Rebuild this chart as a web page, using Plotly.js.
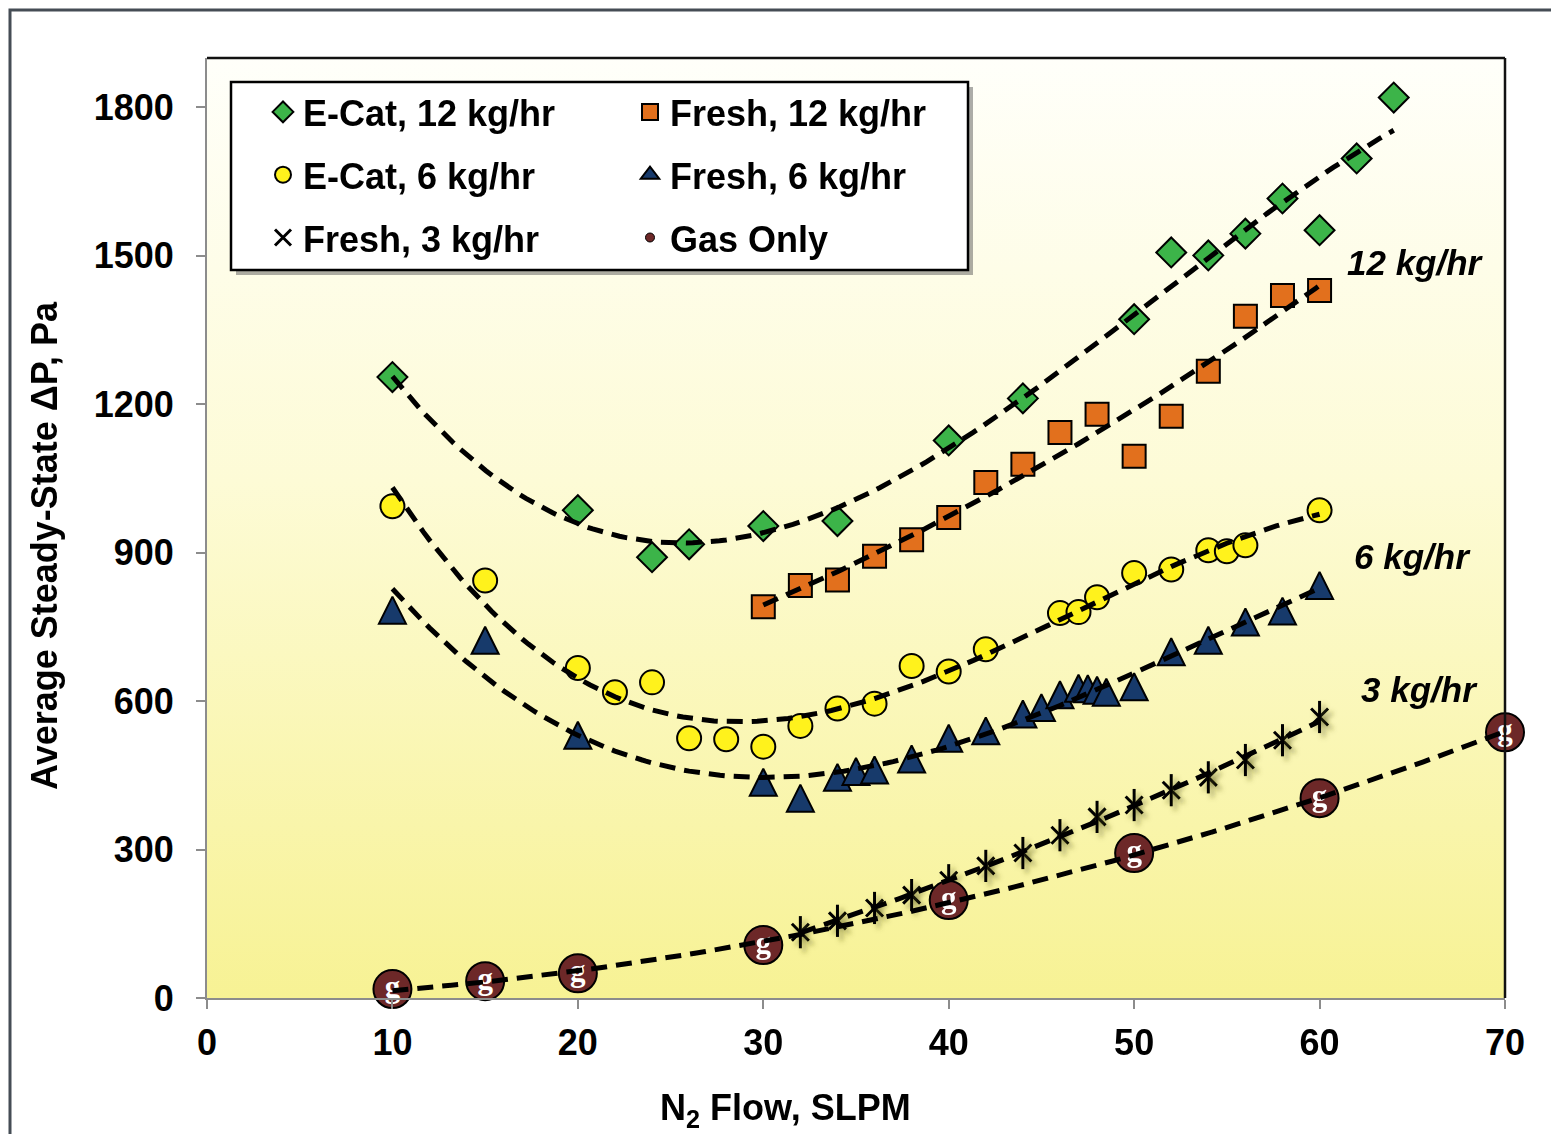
<!DOCTYPE html>
<html>
<head>
<meta charset="utf-8">
<script src="https://cdn.plot.ly/plotly-3.0.1.min.js"></script>
<style>
  html, body { margin: 0; padding: 0; background: #ffffff; }
  #chart { width: 1551px; height: 1134px; }
</style>
</head>
<body>
<div id="chart"></div>
<script>
// N2 flow (SLPM) vs. average steady-state pressure drop (Pa), one pair of arrays per run series
const ecat12X  = [10, 20, 24, 26, 30, 34, 40, 44, 50, 52, 54, 56, 58, 60, 62, 64];
const ecat12Y  = [1255, 986, 891, 917, 954, 964, 1127, 1212, 1372, 1507, 1501, 1545, 1616, 1552, 1697, 1820];

const fresh12X = [30, 32, 34, 36, 38, 40, 42, 44, 46, 48, 50, 52, 54, 56, 58, 60];
const fresh12Y = [791, 834, 845, 893, 926, 971, 1042, 1079, 1143, 1180, 1095, 1176, 1267, 1378, 1420, 1430];

const ecat6X   = [10, 15, 20, 22, 24, 26, 28, 30, 32, 34, 36, 38, 40, 42, 46, 47, 48, 50, 52, 54, 55, 56, 60];
const ecat6Y   = [994, 844, 667, 618, 638, 525, 523, 508, 550, 585, 595, 671, 660, 705, 778, 780, 810, 859, 866, 905, 903, 915, 986];

const fresh6X  = [10, 15, 20, 30, 32, 34, 35, 36, 38, 40, 42, 44, 45, 46, 47, 47.5, 48, 48.5, 50, 52, 54, 56, 58, 60];
const fresh6Y  = [784, 723, 531, 436, 404, 446, 458, 461, 483, 525, 540, 574, 587, 613, 626, 625, 622, 618, 629, 700, 723, 760, 782, 834];

const fresh3X  = [32, 34, 36, 38, 40, 42, 44, 46, 48, 50, 52, 54, 56, 58, 60];
const fresh3Y  = [133, 156, 182, 208, 238, 267, 293, 329, 366, 390, 420, 446, 481, 521, 568];

const gasX     = [10, 15, 20, 30, 40, 50, 60, 70];
const gasY     = [18, 34, 50, 107, 198, 293, 404, 537];

const seriesNames = ['E-Cat, 12 kg/hr', 'Fresh, 12 kg/hr', 'E-Cat, 6 kg/hr', 'Fresh, 6 kg/hr', 'Fresh, 3 kg/hr', 'Gas Only'];
const rateLabels  = ['12 kg/hr', '6 kg/hr', '3 kg/hr'];
const xTitle = 'N<sub>2</sub> Flow, SLPM';
const yTitle = 'Average Steady-State \u0394P, Pa';

// Least-squares polynomial trendline, evaluated across each series' own x span
function polyFit(xs, ys, order) {
  const n = order + 1, s = 10;
  const A = Array.from({ length: n }, () => new Array(n + 1).fill(0));
  xs.forEach((x0, k) => {
    const x = x0 / s;
    for (let i = 0; i < n; i++) {
      for (let j = 0; j < n; j++) A[i][j] += Math.pow(x, i + j);
      A[i][n] += ys[k] * Math.pow(x, i);
    }
  });
  for (let c = 0; c < n; c++) {
    let p = c;
    for (let r = c + 1; r < n; r++) if (Math.abs(A[r][c]) > Math.abs(A[p][c])) p = r;
    [A[c], A[p]] = [A[p], A[c]];
    for (let r = 0; r < n; r++) {
      if (r === c) continue;
      const f = A[r][c] / A[c][c];
      for (let k = c; k <= n; k++) A[r][k] -= f * A[c][k];
    }
  }
  const coef = A.map((row, i) => row[n] / row[i]);
  return x0 => coef.reduce((acc, c, i) => acc + c * Math.pow(x0 / s, i), 0);
}
function trendTrace(xs, ys, order) {
  const f = polyFit(xs, ys, order);
  const lo = Math.min(...xs), hi = Math.max(...xs);
  const tx = [], ty = [];
  for (let i = 0; i <= 150; i++) { const x = lo + (hi - lo) * i / 150; tx.push(x); ty.push(f(x)); }
  return {
    x: tx, y: ty, type: 'scatter', mode: 'lines', showlegend: false, hoverinfo: 'skip',
    line: { color: '#000000', width: 5, dash: '16px,9px' }
  };
}

const FONT = 'Liberation Sans, Arial, Helvetica, sans-serif';
const outline = { color: '#000000', width: 2 };
const TRI = 27;
const NAVY = '#173a6b', MAROON = '#6d2828';

const traces = [
  { x: ecat12X, y: ecat12Y, name: seriesNames[0], legend: 'legend', legendgroup: 'a', type: 'scatter', mode: 'markers',
    marker: { symbol: 'diamond', size: 23, color: '#3cb449', line: outline } },
  { x: fresh12X, y: fresh12Y, name: seriesNames[1], legend: 'legend2', legendgroup: 'b', type: 'scatter', mode: 'markers',
    marker: { symbol: 'square', size: 23, color: '#e2701d', line: outline } },
  { x: ecat6X, y: ecat6Y, name: seriesNames[2], legend: 'legend', legendgroup: 'c', type: 'scatter', mode: 'markers',
    marker: { symbol: 'circle', size: 24, color: '#fff21c', line: outline } },
  // upward-pointing triangles (turned arrow glyph) shifted so their box is centred on the data point
  { x: fresh6X, y: fresh6Y, showlegend: false, legendgroup: 'd', type: 'scatter', mode: 'markers',
    marker: { symbol: 'arrow-down', angle: 180, size: TRI, standoff: TRI / 2, color: NAVY, line: outline } },
  // legend key for the triangles
  { x: [null], y: [null], name: seriesNames[3], legend: 'legend2', legendgroup: 'd', type: 'scatter', mode: 'markers',
    marker: { symbol: 'triangle-up', size: 17, color: NAVY, line: outline } },
  { x: fresh3X, y: fresh3Y, name: seriesNames[4], legend: 'legend', legendgroup: 'e', type: 'scatter', mode: 'markers',
    marker: { symbol: 'x-thin-open', size: 17, color: '#000000', line: { color: '#000000', width: 3 } } },
  { x: fresh3X, y: fresh3Y, showlegend: false, legendgroup: 'e', type: 'scatter', mode: 'markers', hoverinfo: 'skip',
    marker: { symbol: 'line-ns-open', size: 23, color: '#000000', line: { color: '#000000', width: 3 } } },
  { x: gasX, y: gasY, showlegend: false, legendgroup: 'f', type: 'scatter', mode: 'markers',
    cliponaxis: false,
    marker: { symbol: 'circle', size: 38, color: MAROON, line: outline } },
  // small legend key for the gas-only runs
  { x: [null], y: [null], name: seriesNames[5], legend: 'legend2', legendgroup: 'f', type: 'scatter', mode: 'markers',
    marker: { symbol: 'circle', size: 9, color: MAROON, line: { color: '#000000', width: 1 } } },
  { x: gasX, y: gasY, showlegend: false, type: 'scatter', mode: 'text', text: gasX.map(() => 'g'), hoverinfo: 'skip',
    cliponaxis: false, textposition: 'middle center',
    textfont: { family: 'Liberation Serif, Times New Roman, serif', size: 31, color: '#ffffff', weight: 'bold' } },
  trendTrace(ecat12X, ecat12Y, 3),
  trendTrace(fresh12X, fresh12Y, 2),
  trendTrace(ecat6X, ecat6Y, 3),
  trendTrace(fresh6X, fresh6Y, 3),
  trendTrace(fresh3X, fresh3Y, 2),
  trendTrace(gasX, gasY, 2)
];

// Plot area frame in pixels
const W = 1551, H = 1134, ML = 207, MR = 46, MT = 58, MB = 136;
const PW = W - ML - MR, PH = H - MT - MB;
const px = v => (v - ML) / PW;          // page x -> paper x
const py = v => (H - MB - v) / PH;      // page y -> paper y

const bgSvg = '<svg xmlns="http://www.w3.org/2000/svg" width="100" height="100" preserveAspectRatio="none">' +
  '<defs><linearGradient id="bg" x1="0" y1="0" x2="0" y2="1">' +
  '<stop offset="0" stop-color="#fffffa"/><stop offset="0.45" stop-color="#fdfbd6"/><stop offset="1" stop-color="#f7f294"/>' +
  '</linearGradient></defs><rect width="100" height="100" fill="url(#bg)"/></svg>';

const legendCommon = {
  xanchor: 'left', yanchor: 'top', bgcolor: 'rgba(0,0,0,0)', borderwidth: 0,
  font: { family: FONT, size: 36, color: '#000000', weight: 'bold' },
  tracegroupgap: 13, itemclick: false, itemdoubleclick: false
};
const titleFont = { family: FONT, size: 36, color: '#000000', weight: 'bold' };
const rateFont = { family: FONT, size: 35, color: '#000000', weight: 'bold', style: 'italic' };

const layout = {
  width: W, height: H,
  margin: { l: ML, r: MR, t: MT, b: MB, pad: 0 },
  paper_bgcolor: '#ffffff', plot_bgcolor: 'rgba(0,0,0,0)',
  font: { family: FONT, color: '#000000' },
  hovermode: false,
  xaxis: {
    range: [0, 70], tick0: 0, dtick: 10, showgrid: false, zeroline: false,
    ticks: 'outside', ticklen: 9, tickwidth: 2, tickcolor: '#8c8c8c',
    showline: true, linecolor: '#8c8c8c', linewidth: 2,
    tickfont: { family: FONT, size: 36, color: '#000000', weight: 'bold' },
    ticklabelstandoff: 3
  },
  yaxis: {
    range: [0, 1900], tick0: 0, dtick: 300, showgrid: false, zeroline: false,
    ticks: 'outside', ticklen: 9, tickwidth: 2, tickcolor: '#8c8c8c',
    showline: true, linecolor: '#8c8c8c', linewidth: 2,
    tickfont: { family: FONT, size: 36, color: '#000000', weight: 'bold' },
    ticklabelstandoff: 15
  },
  legend: Object.assign({ x: px(263), y: py(82) }, legendCommon),
  legend2: Object.assign({ x: px(630), y: py(82) }, legendCommon),
  images: [{
    source: 'data:image/svg+xml;base64,' + btoa(bgSvg),
    xref: 'paper', yref: 'paper', x: 0, y: 1, sizex: 1, sizey: 1,
    xanchor: 'left', yanchor: 'top', sizing: 'stretch', layer: 'below'
  }],
  shapes: [
    // outer chart border
    { type: 'rect', xref: 'paper', yref: 'paper', x0: px(10), x1: px(1600), y0: py(1180), y1: py(10),
      line: { color: '#454d55', width: 3 }, fillcolor: 'rgba(0,0,0,0)', layer: 'above' },
    // plot area top and right edges
    { type: 'line', xref: 'paper', yref: 'paper', x0: 0, x1: 1, y0: 1, y1: 1, line: { color: '#111111', width: 2.5 } },
    { type: 'line', xref: 'paper', yref: 'paper', x0: 1, x1: 1, y0: 0, y1: 1, line: { color: '#111111', width: 2.5 } },
    // legend box shadow and frame
    { type: 'rect', xref: 'paper', yref: 'paper', x0: px(236), x1: px(973), y0: py(275), y1: py(87),
      line: { width: 0 }, fillcolor: 'rgba(90,90,90,0.5)', layer: 'above' },
    { type: 'rect', xref: 'paper', yref: 'paper', x0: px(231), x1: px(968), y0: py(270), y1: py(82),
      line: { color: '#000000', width: 2.5 }, fillcolor: '#ffffff', layer: 'above' }
  ],
  annotations: [
    { text: xTitle, xref: 'paper', yref: 'paper', x: px(785), y: py(1110), xanchor: 'center', yanchor: 'middle',
      showarrow: false, font: titleFont },
    { text: yTitle, xref: 'paper', yref: 'paper', x: px(44), y: py(545), xanchor: 'center', yanchor: 'middle',
      textangle: -90, showarrow: false, font: titleFont },
    { text: rateLabels[0], xref: 'x', yref: 'y', x: 65.2, y: 1486, showarrow: false, font: rateFont },
    { text: rateLabels[1], xref: 'x', yref: 'y', x: 65.0, y: 893, showarrow: false, font: rateFont },
    { text: rateLabels[2], xref: 'x', yref: 'y', x: 65.4, y: 623, showarrow: false, font: rateFont }
  ]
};

const gd = document.getElementById('chart');
Plotly.newPlot(gd, traces, layout, { displayModeBar: false, staticPlot: true }).then(() => {
  // soft drop shadow under the 3 kg/hr star markers
  const NS = 'http://www.w3.org/2000/svg';
  const defs = gd.querySelector('svg.main-svg defs');
  const filter = document.createElementNS(NS, 'filter');
  filter.setAttribute('id', 'starShadow');
  filter.setAttribute('x', '-50%'); filter.setAttribute('y', '-50%');
  filter.setAttribute('width', '200%'); filter.setAttribute('height', '200%');
  const ds = document.createElementNS(NS, 'feDropShadow');
  ds.setAttribute('dx', '4'); ds.setAttribute('dy', '4'); ds.setAttribute('stdDeviation', '2.5');
  ds.setAttribute('flood-color', '#5c5c1e'); ds.setAttribute('flood-opacity', '0.55');
  filter.appendChild(ds);
  defs.appendChild(filter);
  gd.querySelectorAll('.scatterlayer .trace').forEach(g => {
    const cd = g.__data__;
    const tr = cd && cd[0] && cd[0].trace;
    if (tr && tr.legendgroup === 'e') {
      const pts = g.querySelector('.points');
      if (pts) pts.setAttribute('filter', 'url(#starShadow)');
    }
  });
});
</script>
</body>
</html>
